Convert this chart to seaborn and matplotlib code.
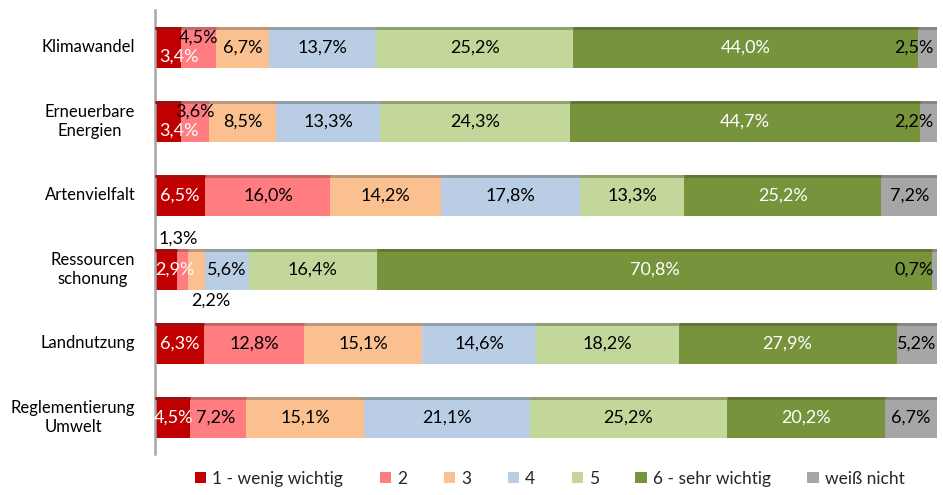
import numpy as np
import pandas as pd
import seaborn as sns
import matplotlib.pyplot as plt
from matplotlib.patches import Patch

categories = ["Klimawandel", "Erneuerbare\nEnergien", "Artenvielfalt",
              "Ressourcen\nschonung", "Landnutzung", "Reglementierung\nUmwelt"]
series = ["1 - wenig wichtig", "2", "3", "4", "5", "6 - sehr wichtig", "weiß nicht"]
v1 = [3.4, 3.4, 6.5, 2.9, 6.3, 4.5]
v2 = [4.5, 3.6, 16.0, 1.3, 12.8, 7.2]
v3 = [6.7, 8.5, 14.2, 2.2, 15.1, 15.1]
v4 = [13.7, 13.3, 17.8, 5.6, 14.6, 21.1]
v5 = [25.2, 24.3, 13.3, 16.4, 18.2, 25.2]
v6 = [44.0, 44.7, 25.2, 70.8, 27.9, 20.2]
v7 = [2.5, 2.2, 7.2, 0.7, 5.2, 6.7]
colors = ["#C00000", "#FF7C80", "#FAC090", "#B9CDE5", "#C4D79B", "#77933C", "#A6A6A6"]

sns.set_theme(style="white")
plt.rcParams['font.family'] = ['Lato', 'DejaVu Sans']

vals = np.array([v1, v2, v3, v4, v5, v6, v7]).T  # rows = categories
totals = vals.sum(axis=1, keepdims=True)
share = vals / totals * 100
cum = np.cumsum(share, axis=1)
left = cum - share

fig = plt.figure(figsize=(9.43, 4.95), dpi=100)
ax = fig.add_axes([0.164, 0.082, 0.830, 0.897])

for j in reversed(range(len(series))):
    df = pd.DataFrame({"cat": categories, "val": cum[:, j]})
    sns.barplot(data=df, x="val", y="cat", orient="h", color=colors[j],
                saturation=1, width=0.56, ax=ax, order=categories,
                linewidth=0, edgecolor='none')

# darker top edge (pseudo 3D look)
for p in list(ax.patches):
    fc = np.array(p.get_facecolor()[:3]) * 0.78
    x0 = p.get_x()
    ax.plot([x0, x0 + p.get_width()], [p.get_y() + 0.015, p.get_y() + 0.015],
            color=fc, lw=2.0, solid_capstyle='butt', zorder=3, alpha=0.9)

offsets = {(0, 0): (1.4, 0.13), (0, 1): (0.0, -0.13),
           (1, 0): (1.4, 0.13), (1, 1): (0.0, -0.13),
           (3, 0): (1.1, 0.0), (3, 1): (-0.6, -0.42), (3, 2): (1.9, 0.42),
           (5, 0): (0.2, 0.0), (5, 1): (-0.3, 0.0)}

for i in range(len(categories)):
    for j in range(len(series)):
        x = left[i, j] + share[i, j] / 2
        y = i
        ha = 'center'
        dx, dy = offsets.get((i, j), (0.0, 0.0))
        x += dx
        y += dy
        if j == len(series) - 1 and share[i, j] < 4:
            x = 99.5
            ha = 'right'
        col = 'white' if j in (0, 5) else 'black'
        txt = f"{vals[i, j]:.1f}".replace('.', ',') + "%"
        ax.text(x, y, txt, ha=ha, va='center', color=col, fontsize=13, zorder=5)

ax.set_xlim(0, 100)
ax.set_ylim(len(categories) - 0.5, -0.5)
ax.set_xlabel("")
ax.set_ylabel("")
ax.set_xticks([])
ax.set_yticks(range(len(categories)))
ax.set_yticklabels([""] * len(categories))
ax.tick_params(axis='y', length=0)
for i, cat in enumerate(categories):
    ax.annotate(cat, xy=(0, i), xycoords=('axes fraction', 'data'),
                xytext=(-14, 0), textcoords='offset points',
                ha='right', va='center', multialignment='center',
                fontsize=12, color='black')
for s in ['top', 'right', 'bottom']:
    ax.spines[s].set_visible(False)
ax.spines['left'].set_color('#A6A6A6')
ax.spines['left'].set_linewidth(1.8)

handles = [Patch(facecolor=c, edgecolor='none') for c in colors]
fig.legend(handles, series, loc='lower center', bbox_to_anchor=(0.583, -0.015),
           ncol=7, frameon=False, handlelength=0.65, handleheight=0.65,
           handletextpad=0.35, columnspacing=2.1, fontsize=12.5)

fig.savefig("out.png", dpi=100)
